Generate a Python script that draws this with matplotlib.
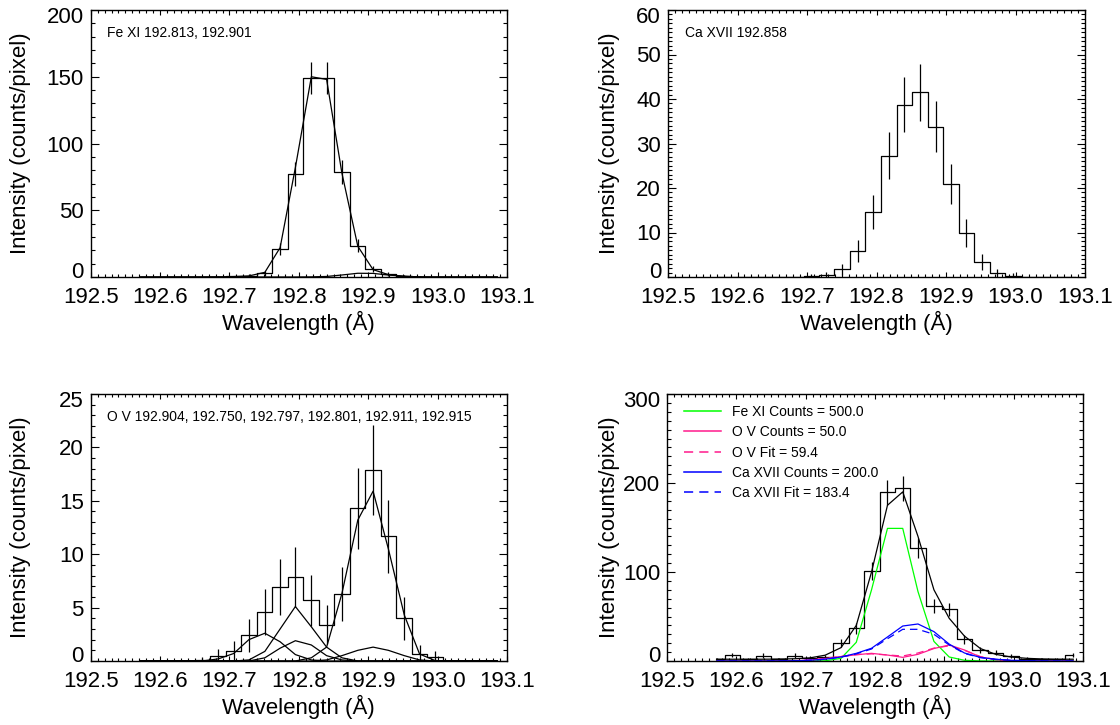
import numpy as np
import matplotlib
matplotlib.use("Agg")
import matplotlib.pyplot as plt
from matplotlib.ticker import MultipleLocator, FormatStrFormatter
from matplotlib.transforms import ScaledTranslation

plt.rcParams['font.family'] = ['Liberation Sans', 'DejaVu Sans']

# pixel centres (Angstrom)
wl = [192.572, 192.594, 192.617, 192.639, 192.661, 192.684, 192.706, 192.728,
      192.751, 192.773, 192.795, 192.818, 192.840, 192.862, 192.885, 192.907,
      192.929, 192.952, 192.974, 192.996, 193.019, 193.041, 193.063, 193.086]
xticks = [192.5, 192.6, 192.7, 192.8, 192.9, 193.0, 193.1]

# Fe XI panel
fe_counts = [0, 0, 0, 0, 0, 0.2, 0.4, 1.0, 2.7, 20.7, 77.2, 149.0, 149.0, 78.9,
             23.5, 6.0, 2.2, 0.6, 0.1, 0, 0, 0, 0, 0]
fe_fit = [0, 0, 0, 0, 0, 0.1, 0.3, 0.8, 3.5, 22.0, 82.0, 150.0, 148.0, 78.0,
          23.0, 5.5, 1.8, 0.5, 0.1, 0, 0, 0, 0, 0]
fe_weak = [0, 0, 0, 0, 0, 0, 0, 0, 0, 0, 0, 0.1, 0.4, 1.5, 2.8, 2.7, 1.5, 0.5,
           0.1, 0, 0, 0, 0, 0]

# Ca XVII panel
ca_counts = [0, 0, 0, 0, 0, 0, 0.2, 0.4, 1.7, 5.9, 14.6, 27.3, 38.7, 41.5, 33.8,
             20.9, 9.8, 3.4, 0.9, 0.3, 0, 0, 0, 0]

# O V panel
ov_counts = [0, 0, 0, 0, 0.1, 0.45, 0.9, 2.4, 4.6, 6.9, 7.9, 5.7, 3.4, 6.3, 14.3,
             17.9, 11.7, 4.0, 0.7, 0.35, 0, 0, 0, 0]
ov_c1 = [0, 0, 0, 0, 0, 0.2, 0.7, 2.0, 2.6, 1.8, 0.6, 0.1, 0, 0, 0, 0, 0, 0, 0,
         0, 0, 0, 0, 0]
ov_c2 = [0, 0, 0, 0, 0, 0, 0, 0.1, 0.9, 3.0, 5.1, 3.2, 1.3, 0.3, 0, 0, 0, 0, 0,
         0, 0, 0, 0, 0]
ov_c3 = [0, 0, 0, 0, 0, 0, 0, 0, 0.3, 1.2, 1.9, 1.5, 0.5, 0.1, 0, 0, 0, 0, 0, 0,
         0, 0, 0, 0]
ov_c4 = [0, 0, 0, 0, 0, 0, 0, 0, 0, 0, 0, 0.3, 1.3, 6.3, 13.2, 15.9, 10.5, 4.3,
         0.65, 0.05, 0, 0, 0, 0]
ov_c5 = [0, 0, 0, 0, 0, 0, 0, 0, 0, 0, 0, 0, 0.1, 0.5, 1.0, 1.3, 1.0, 0.5, 0.1,
         0, 0, 0, 0, 0]

# blended spectrum panel
sum_counts = [1.9, 6.7, 1.9, 6.0, 2.0, 6.0, 3.7, 4.5, 19.8, 36.7, 101.5, 189.5,
              194.0, 127.0, 62.0, 58.0, 24.4, 12.4, 9.4, 5.6, 2.6, 2.0, 2.0, 6.7]
sum_fit = [2.0, 2.0, 2.0, 2.0, 2.2, 2.5, 3.5, 6.5, 15.0, 40.0, 100.0, 175.0,
           190.0, 140.0, 80.0, 48.0, 28.0, 14.0, 7.5, 4.5, 3.0, 2.3, 2.0, 2.0]
fe_model = [0, 0, 0, 0, 0, 0, 0, 0.2, 3.0, 21.0, 80.0, 149.0, 149.0, 78.0, 22.0,
            4.5, 0.8, 0.1, 0, 0, 0, 0, 0, 0]
ov_model = [0, 0, 0, 0, 0.1, 0.3, 1.0, 2.8, 5.0, 7.0, 8.6, 6.7, 4.1, 7.5, 14.0,
            18.0, 12.4, 4.5, 1.5, 0.4, 0.1, 0, 0, 0]
ov_fitline = [0, 0, 0, 0, 0.1, 0.4, 1.2, 3.0, 5.2, 7.2, 8.0, 6.8, 5.6, 9.0, 14.5,
              17.0, 12.0, 5.0, 1.6, 0.4, 0.1, 0, 0, 0]
ca_model = [0, 0, 0, 0, 0.1, 0.3, 0.8, 2.0, 4.5, 8.6, 14.3, 27.0, 39.3, 41.6,
            33.0, 19.0, 9.0, 4.0, 2.0, 0.8, 0.3, 0.1, 0, 0]
ca_fitline = [0, 0, 0, 0, 0.1, 0.3, 0.8, 2.0, 4.3, 8.0, 13.5, 25.0, 35.6, 35.6,
              30.0, 18.0, 8.5, 3.8, 1.8, 0.7, 0.3, 0.1, 0, 0]

legend_labels = ['Fe XI Counts = 500.0', 'O V Counts = 50.0', 'O V Fit = 59.4',
                 'Ca XVII Counts = 200.0', 'Ca XVII Fit = 183.4']

GREEN = '#00ff00'
PINK = '#ff1a8c'
BLUE = '#0000ff'
LW = 0.9
DASH = (0, (6, 4))

W, H = 1120, 725
fig = plt.figure(figsize=(W / 100, H / 100), dpi=100)


def make_axes(left, top, right, bottom):
    return fig.add_axes([left / W, 1 - bottom / H, (right - left) / W, (bottom - top) / H])


def shift(label, dy_px):
    label.set_transform(label.get_transform() +
                        ScaledTranslation(0, dy_px / 100, fig.dpi_scale_trans))


def style(ax, ymax, ymajor, yminor, ylab_px):
    ax.set_xlim(192.5, 193.1)
    ax.set_ylim(0, ymax)
    ax.set_xticks(xticks)
    ax.xaxis.set_minor_locator(MultipleLocator(0.01))
    ax.set_yticks(np.arange(0, ymax + ymajor / 2, ymajor))
    ax.yaxis.set_minor_locator(MultipleLocator(yminor))
    ax.xaxis.set_major_formatter(FormatStrFormatter('%.1f'))
    for s in ax.spines.values():
        s.set_linewidth(1.0)
    ax.tick_params(which='both', direction='in', top=True, right=True, width=0.8,
                   labelsize=16, colors='black')
    ax.tick_params(axis='x', which='major', length=3.8, pad=7)
    ax.tick_params(axis='x', which='minor', length=1.9)
    ax.tick_params(axis='y', which='major', length=6, pad=5)
    ax.tick_params(axis='y', which='minor', length=3)
    ax.set_xlabel('Wavelength (Å)', fontsize=16, labelpad=2)
    # IDL keeps the end labels inside the axis range
    ylabs = ax.get_yticklabels()
    shift(ylabs[0], 7)
    shift(ylabs[-1], -5)
    pos = ax.get_position()
    fig.text(ylab_px / W, (pos.y0 + pos.y1) / 2, 'Intensity (counts/pixel)',
             rotation=90, ha='center', va='center', fontsize=16)


def hist(ax, counts, color='black'):
    c = np.array(counts)
    ax.step(wl, c, where='mid', color=color, lw=LW)
    err = np.sqrt(c)
    ax.vlines(wl, c - err, c + err, color=color, lw=LW)


# ---- top left: Fe XI ----
ax1 = make_axes(90.7, 10, 507, 277)
style(ax1, 200, 50, 10, 21)
hist(ax1, fe_counts)
ax1.plot(wl, fe_fit, color='black', lw=LW)
ax1.plot(wl, fe_weak, color='black', lw=LW)
ax1.text(0.04, 0.9, 'Fe XI 192.813, 192.901', transform=ax1.transAxes, fontsize=10)

# ---- top right: Ca XVII ----
ax2 = make_axes(668, 10, 1085, 277)
style(ax2, 60, 10, 1, 610)
hist(ax2, ca_counts)
ax2.text(0.04, 0.9, 'Ca XVII 192.858', transform=ax2.transAxes, fontsize=10)

# ---- bottom left: O V ----
ax3 = make_axes(90.7, 394, 507, 661)
style(ax3, 25, 5, 1, 21)
hist(ax3, ov_counts)
for comp in (ov_c1, ov_c2, ov_c3, ov_c4, ov_c5):
    ax3.plot(wl, comp, color='black', lw=LW)
ax3.text(0.04, 0.9, 'O V 192.904, 192.750, 192.797, 192.801, 192.911, 192.915',
         transform=ax3.transAxes, fontsize=10)

# ---- bottom right: blend ----
ax4 = make_axes(667, 394, 1083, 661)
style(ax4, 300, 100, 10, 610)
hist(ax4, sum_counts)
ax4.plot(wl, sum_fit, color='black', lw=LW)
ax4.plot(wl, fe_model, color=GREEN, lw=LW)
ax4.plot(wl, ov_model, color=PINK, lw=LW)
ax4.plot(wl, ov_fitline, color=PINK, lw=LW, ls=DASH)
ax4.plot(wl, ca_model, color=BLUE, lw=LW)
ax4.plot(wl, ca_fitline, color=BLUE, lw=LW, ls=DASH)

handles = [
    plt.Line2D([], [], color=GREEN, lw=1.1),
    plt.Line2D([], [], color=PINK, lw=1.1),
    plt.Line2D([], [], color=PINK, lw=1.1, ls=DASH),
    plt.Line2D([], [], color=BLUE, lw=1.1),
    plt.Line2D([], [], color=BLUE, lw=1.1, ls=DASH),
]
ax4.legend(handles, legend_labels, loc='upper left', bbox_to_anchor=(0.02, 0.99),
           frameon=False, fontsize=10, handlelength=2.7, handletextpad=0.8,
           labelspacing=0.45, borderaxespad=0.2)

fig.savefig('out.png', dpi=100)
